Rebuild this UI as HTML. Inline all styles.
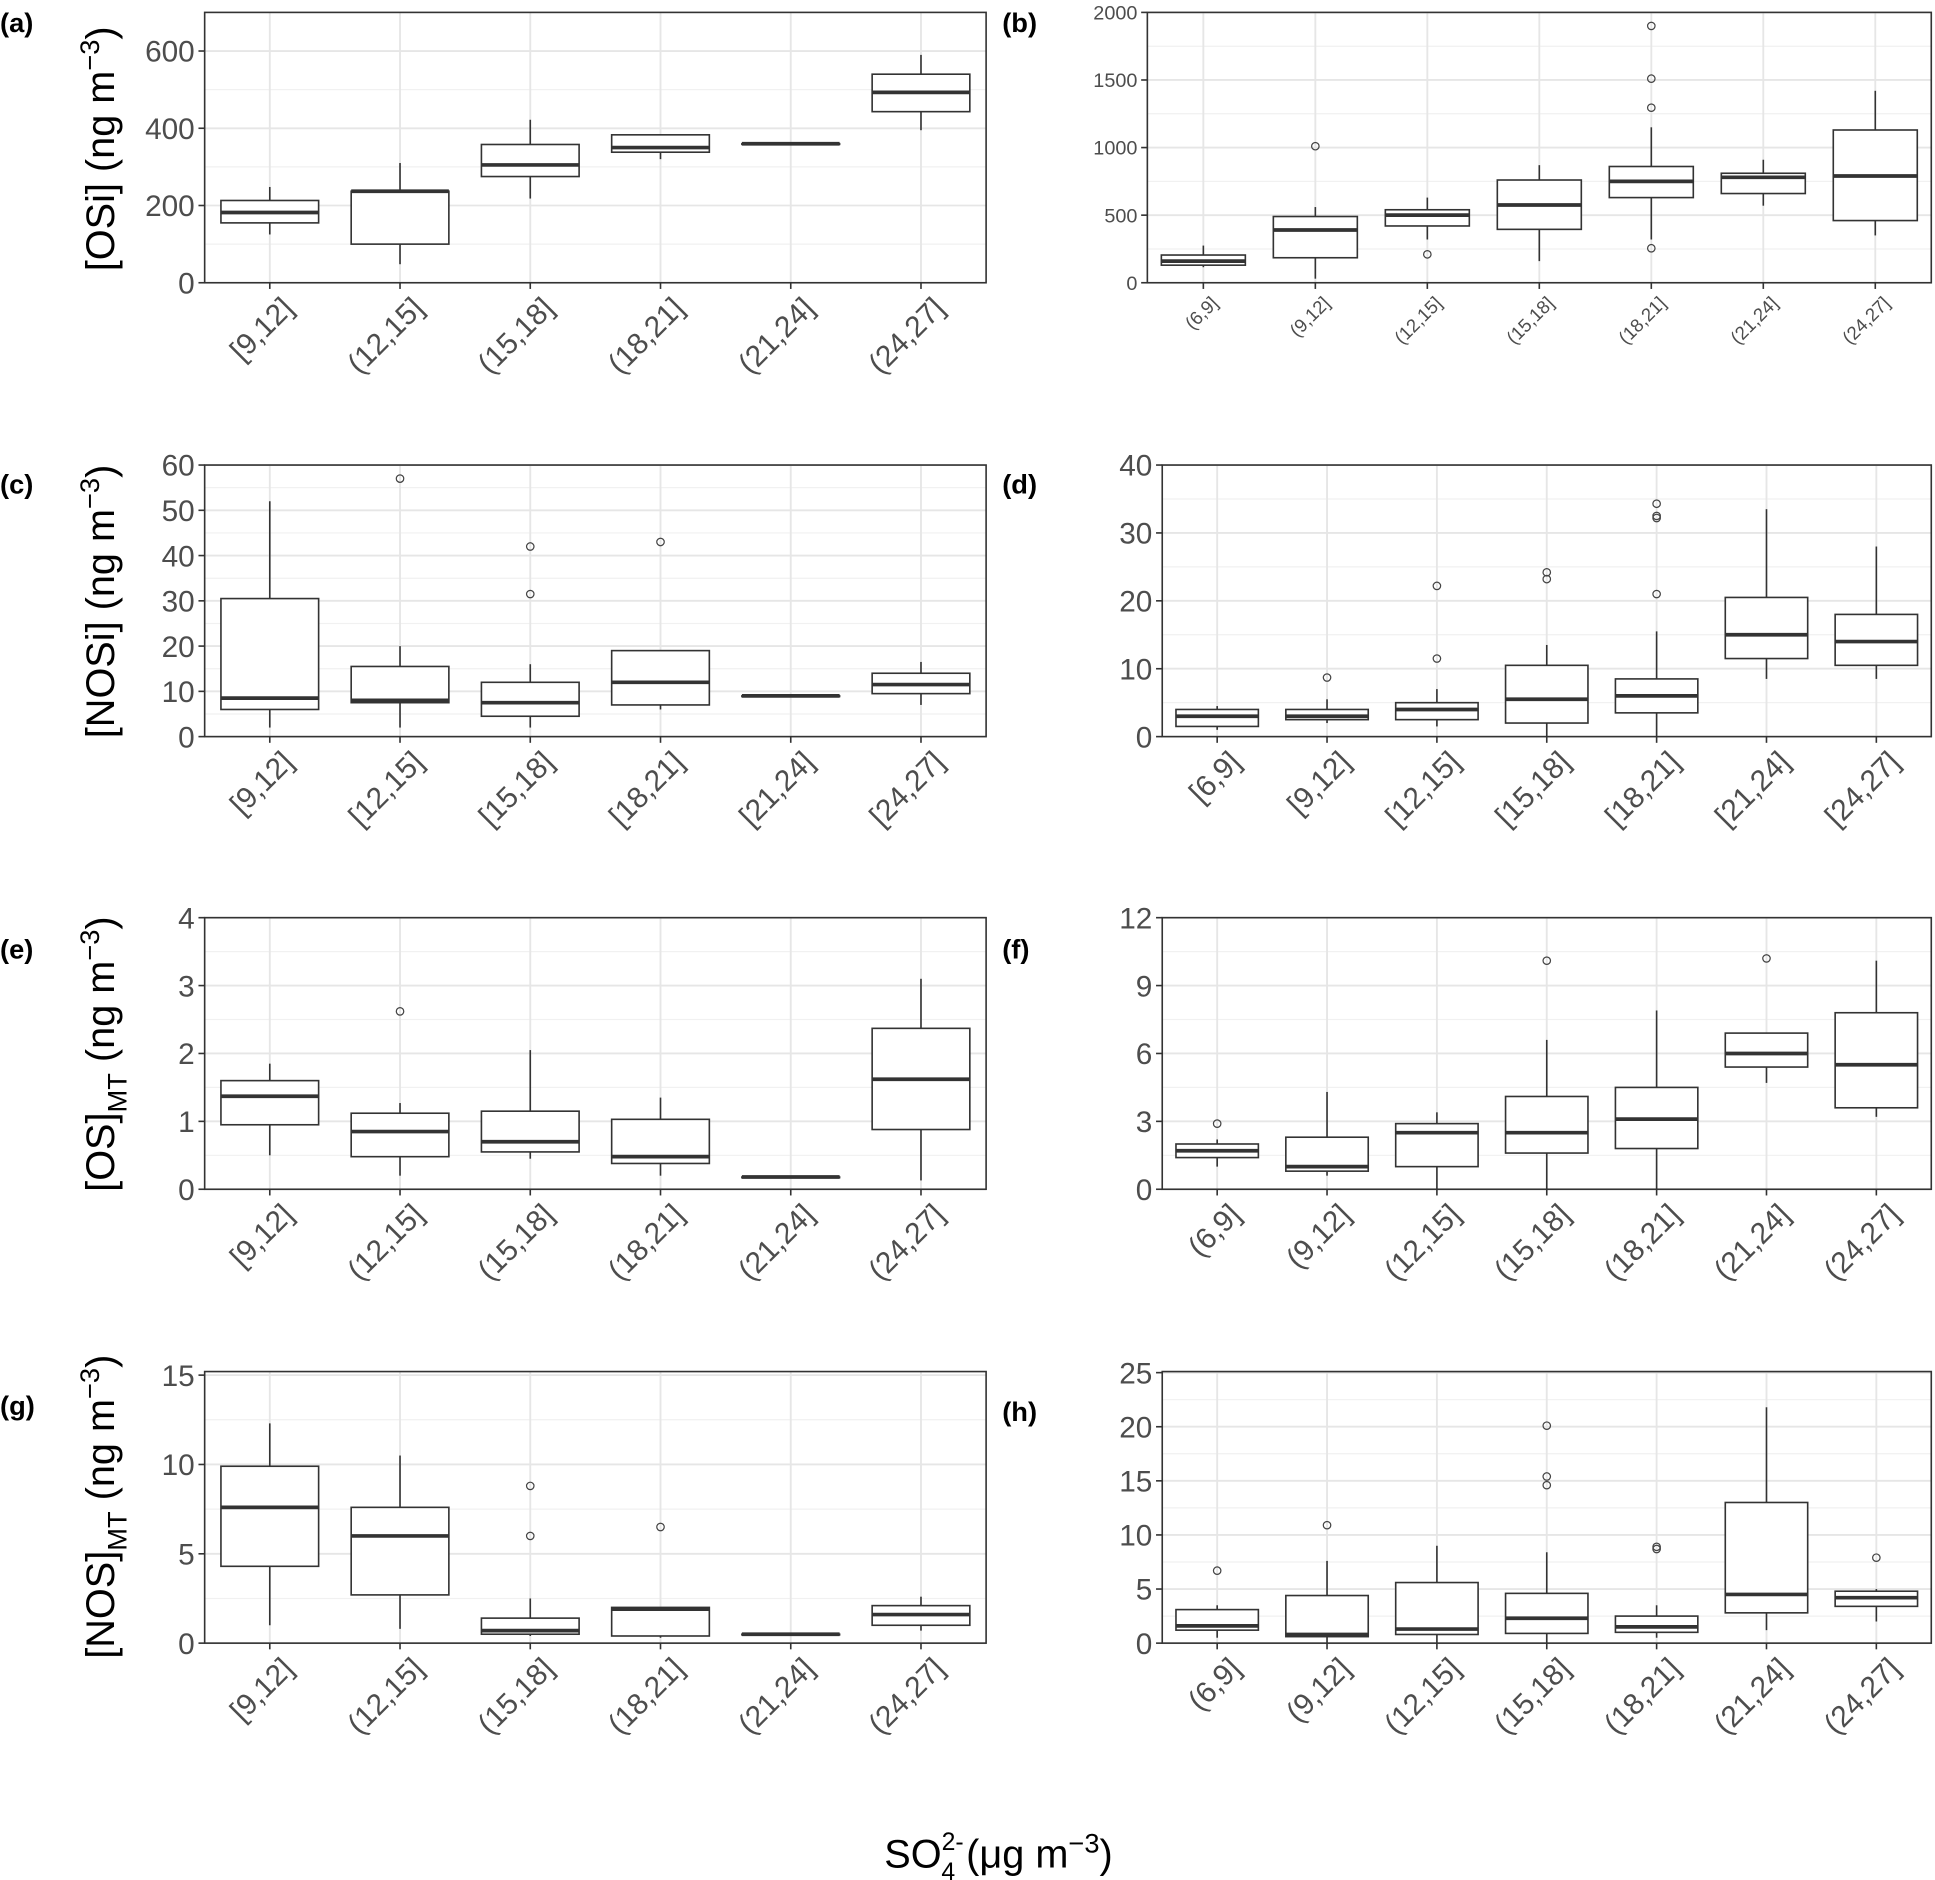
<!DOCTYPE html>
<html><head><meta charset="utf-8"><style>
html,body{margin:0;padding:0;background:#fff}
svg{display:block}
text{font-family:"Liberation Sans",sans-serif}
</style></head><body>
<svg id="fig" width="1935" height="1880" viewBox="0 0 1560 1516" preserveAspectRatio="none" xmlns="http://www.w3.org/2000/svg"></svg>
<script>
const catsBr = ["[9,12]","(12,15]","(15,18]","(18,21]","(21,24]","(24,27]"];
const catsC = ["[9,12]","[12,15]","[15,18]","[18,21]","[21,24]","[24,27]"];
const cats7 = ["(6,9]","(9,12]","(12,15]","(15,18]","(18,21]","(21,24]","(24,27]"];
const cats7D = ["[6,9]","[9,12]","[12,15]","[15,18]","[18,21]","[21,24]","[24,27]"];
// [lower whisker, q1, median, q3, upper whisker]
const boxA = [[125,155,182,213,248],[48,100,237,237,310],[218,275,305,358,422],[320,338,350,383,383],[360,360,360,360,360],[395,443,493,540,590]];
const outA = [[],[],[],[],[],[]];
const boxB = [[115,130,160,205,275],[30,185,390,490,560],[320,420,500,540,630],[160,395,575,760,870],[320,630,750,860,1150],[570,660,780,810,910],[350,460,790,1130,1420]];
const outB = [[],[1010],[210],[],[1900,1510,1295,255],[],[]];
const boxC = [[2,6,8.5,30.5,52],[2,7.5,8,15.5,20],[2,4.5,7.5,12,16],[6,7,12,19,19],[9,9,9,9,9],[7,9.5,11.5,14,16.5]];
const outC = [[],[57],[42,31.5],[43],[],[]];
const boxD = [[1,1.5,3,4,4.5],[2,2.5,3,4,5.5],[1.5,2.5,4,5,7],[0,2,5.5,10.5,13.5],[0,3.5,6,8.5,15.5],[8.5,11.5,15,20.5,33.5],[8.5,10.5,14,18,28]];
const outD = [[],[8.7],[11.5,22.2],[23.2,24.2],[21,32.2,32.5,34.3],[],[]];
const boxE = [[0.5,0.95,1.37,1.6,1.85],[0.2,0.48,0.85,1.12,1.27],[0.45,0.55,0.7,1.15,2.05],[0.2,0.38,0.48,1.03,1.35],[0.18,0.18,0.18,0.18,0.18],[0.13,0.88,1.62,2.37,3.1]];
const outE = [[],[2.62],[],[],[],[]];
const boxF = [[1,1.4,1.7,2,2.2],[0.6,0.8,1,2.3,4.3],[0,1,2.5,2.9,3.4],[0,1.6,2.5,4.1,6.6],[0,1.8,3.1,4.5,7.9],[4.7,5.4,6,6.9,6.9],[3.2,3.6,5.5,7.8,10.1]];
const outF = [[2.9],[],[],[10.1],[],[10.2],[]];
const boxG = [[1,4.3,7.6,9.9,12.3],[0.8,2.7,6,7.6,10.5],[0.4,0.5,0.7,1.4,2.5],[0.3,0.4,1.9,2,2],[0.5,0.5,0.5,0.5,0.5],[0.7,1,1.6,2.1,2.6]];
const outG = [[],[],[8.8,6],[6.5],[],[]];
const boxH = [[0.5,1.2,1.6,3.1,3.5],[0,0.6,0.8,4.4,7.6],[0,0.8,1.3,5.6,9],[0,0.9,2.3,4.6,8.4],[0.5,1,1.5,2.5,3.5],[1.2,2.8,4.5,13,21.8],[2,3.4,4.2,4.8,5]];
const outH = [[6.7],[10.9],[],[14.6,15.4,20.1],[8.7,8.9],[],[7.9]];
const ticksA=[0,200,400,600], ticksB=[0,500,1000,1500,2000], ticksC=[0,10,20,30,40,50,60], ticksD=[0,10,20,30,40];
const ticksE=[0,1,2,3,4], ticksF=[0,3,6,9,12], ticksG=[0,5,10,15], ticksH=[0,5,10,15,20,25];

const NS="http://www.w3.org/2000/svg";
const svg=document.getElementById('fig');
function mk(tag,attrs,parent){const e=document.createElementNS(NS,tag);for(const k in attrs)e.setAttribute(k,attrs[k]);(parent||svg).appendChild(e);return e;}

function panel(id,x0,x1,y0,y1,ymax,ticks,cats,boxes,outs,tickFs,catFs){
  const g=mk('g',{});
  
  
  const ys=v=>y1-(v/ymax)*(y1-y0);
  const n=cats.length, step=(x1-x0)/n;
  const xs=i=>x0+step*(i+0.5);
  const minorStep=(ticks[1]-ticks[0])/2;
  for(let v=minorStep;v<ymax;v+=ticks[1]-ticks[0]) mk('line',{x1:x0,x2:x1,y1:ys(v),y2:ys(v),stroke:'#f1f1f1','stroke-width':1},g);
  ticks.forEach(v=>mk('line',{x1:x0,x2:x1,y1:ys(v),y2:ys(v),stroke:'#e6e6e6','stroke-width':1.5},g));
  cats.forEach((c,i)=>mk('line',{x1:xs(i),x2:xs(i),y1:y0,y2:y1,stroke:'#e6e6e6','stroke-width':1.5},g));
  const bw=step*0.75;
  boxes.forEach((b,i)=>{
    const bx=mk('g',{},g);
    
    
    const cx=xs(i);
    mk('line',{x1:cx,x2:cx,y1:ys(b[0]),y2:ys(b[1]),stroke:'#333','stroke-width':1.3},bx);
    mk('line',{x1:cx,x2:cx,y1:ys(b[3]),y2:ys(b[4]),stroke:'#333','stroke-width':1.3},bx);
    mk('rect',{x:cx-bw/2,y:ys(b[3]),width:bw,height:Math.max(0.5,ys(b[1])-ys(b[3])),fill:'#fff',stroke:'#333','stroke-width':1.3},bx);
    mk('line',{x1:cx-bw/2,x2:cx+bw/2,y1:ys(b[2]),y2:ys(b[2]),stroke:'#333','stroke-width':3},bx);
    outs[i].forEach(o=>{const c=mk('circle',{cx:cx,cy:ys(o),r:3,fill:'none',stroke:'#444','stroke-width':1},bx);
      
      });
  });
  mk('rect',{x:x0,y:y0,width:x1-x0,height:y1-y0,fill:'none',stroke:'#333','stroke-width':1.3},g);
  ticks.forEach(v=>{
    mk('line',{x1:x0-5,x2:x0,y1:ys(v),y2:ys(v),stroke:'#333','stroke-width':1.3},g);
    const t=mk('text',{x:x0-8,y:ys(v)+tickFs*0.36,'text-anchor':'end','font-size':tickFs,fill:'#4d4d4d'},g);
    t.textContent=v;
    
    
  });
  cats.forEach((c,i)=>{
    mk('line',{x1:xs(i),x2:xs(i),y1:y1,y2:y1+5,stroke:'#333','stroke-width':1.3},g);
    const tx=xs(i)+catFs*0.35, ty=y1+10;
    const t=mk('text',{x:tx,y:ty,'text-anchor':'end','font-size':catFs,fill:'#4d4d4d',transform:`rotate(-45 ${tx} ${ty}) translate(0 ${catFs*0.7})`},g);
    t.textContent=c;
    
    
  });
}
panel('a',165,795,10,228,700,ticksA,catsBr,boxA,outA,24,24);
panel('b',925,1557,10,228,2000,ticksB,cats7,boxB,outB,16,15);
panel('c',165,795,375,594,60,ticksC,catsC,boxC,outC,24,24);
panel('d',937,1557,375,594,40,ticksD,cats7D,boxD,outD,24,24);
panel('e',165,795,740,959,4,ticksE,catsBr,boxE,outE,24,24);
panel('f',937,1557,740,959,12,ticksF,cats7,boxF,outF,24,24);
panel('g',165,795,1106,1325,15.2,ticksG,catsBr,boxG,outG,24,24);
panel('h',937,1557,1106,1325,25.1,ticksH,cats7,boxH,outH,24,24);
</script>
<svg style="position:absolute;left:0;top:0" width="1935" height="1880" viewBox="0 0 1560 1516" preserveAspectRatio="none" xmlns="http://www.w3.org/2000/svg">
<g font-family="Liberation Sans, sans-serif" font-weight="bold" font-size="22" fill="#000">
<text x="0" y="26">(a)</text>
<text x="808" y="26">(b)</text>
<text x="0" y="398">(c)</text>
<text x="808" y="398">(d)</text>
<text x="0" y="773">(e)</text>
<text x="808" y="773">(f)</text>
<text x="0" y="1141">(g)</text>
<text x="808" y="1146">(h)</text>
</g>
<g font-family="Liberation Sans, sans-serif" font-size="32" fill="#000">
<text transform="translate(92 120) rotate(-90)" text-anchor="middle">[OSi] (ng m<tspan dy="-12" font-size="22">−3</tspan><tspan dy="12">)</tspan></text>
<text transform="translate(92 485) rotate(-90)" text-anchor="middle">[NOSi] (ng m<tspan dy="-12" font-size="22">−3</tspan><tspan dy="12">)</tspan></text>
<text transform="translate(92 850) rotate(-90)" text-anchor="middle">[OS]<tspan dy="10" font-size="22">MT</tspan><tspan dy="-10"> (ng m</tspan><tspan dy="-12" font-size="22">−3</tspan><tspan dy="12">)</tspan></text>
<text transform="translate(92 1215) rotate(-90)" text-anchor="middle">[NOS]<tspan dy="10" font-size="22">MT</tspan><tspan dy="-10"> (ng m</tspan><tspan dy="-12" font-size="22">−3</tspan><tspan dy="12">)</tspan></text>
<text x="805" y="1506" text-anchor="middle">SO<tspan font-size="20" dy="-14">2-</tspan><tspan font-size="20" dx="-18" dy="24">4</tspan><tspan dy="-10"> (μg m</tspan><tspan dy="-12" font-size="22">−3</tspan><tspan dy="12">)</tspan></text>
</g>
</svg>
</body></html>
